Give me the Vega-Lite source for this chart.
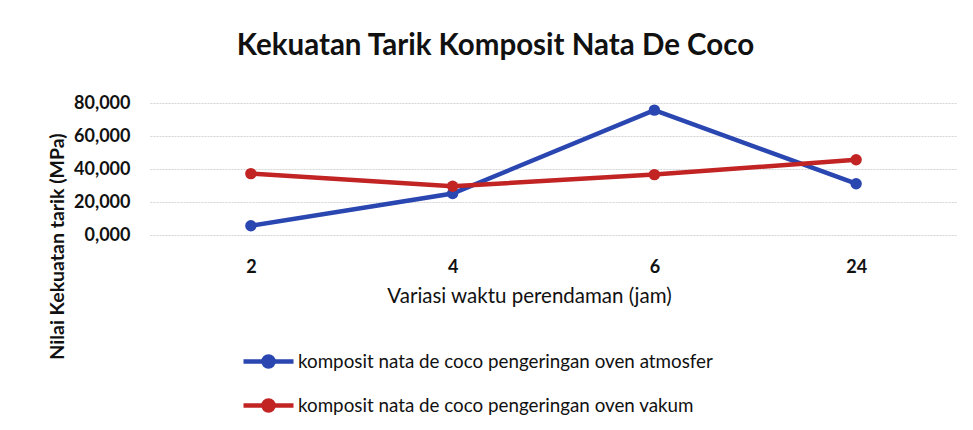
{
  "$schema": "https://vega.github.io/schema/vega-lite/v6.json",
  "width": 807,
  "height": 132,
  "autosize": {"type": "none"},
  "padding": {"left": 150, "top": 103, "right": 16, "bottom": 195},
  "background": "white",
  "config": {
    "font": "Lato",
    "view": {"stroke": null},
    "axis": {"labelFont": "Lato", "titleFont": "Lato"},
    "legend": {"labelFont": "Lato"}
  },
  "title": {
    "text": "Kekuatan Tarik Komposit Nata De Coco",
    "font": "Lato",
    "fontSize": 29.5,
    "fontWeight": "bold",
    "color": "#111111",
    "anchor": "middle",
    "dx": -58,
    "offset": 33
  },
  "data": {
    "values": [
      {"waktu": "2", "seri": "komposit nata de coco pengeringan oven atmosfer", "nilai": 5.6},
      {"waktu": "4", "seri": "komposit nata de coco pengeringan oven atmosfer", "nilai": 25.1},
      {"waktu": "6", "seri": "komposit nata de coco pengeringan oven atmosfer", "nilai": 75.7},
      {"waktu": "24", "seri": "komposit nata de coco pengeringan oven atmosfer", "nilai": 31.1},
      {"waktu": "2", "seri": "komposit nata de coco pengeringan oven vakum", "nilai": 37.2},
      {"waktu": "4", "seri": "komposit nata de coco pengeringan oven vakum", "nilai": 29.5},
      {"waktu": "6", "seri": "komposit nata de coco pengeringan oven vakum", "nilai": 36.6},
      {"waktu": "24", "seri": "komposit nata de coco pengeringan oven vakum", "nilai": 45.6}
    ]
  },
  "encoding": {
    "x": {
      "field": "waktu",
      "type": "ordinal",
      "sort": ["2", "4", "6", "24"],
      "scale": {"paddingInner": 0, "paddingOuter": 0},
      "axis": {
        "title": "Variasi waktu perendaman (jam)",
        "titleFontSize": 20.5,
        "titleFontWeight": "normal",
        "titleColor": "#111111",
        "titlePadding": 10,
        "titleX": 379,
        "labelAngle": 0,
        "labelFontSize": 18,
        "labelFontWeight": "bold",
        "labelColor": "#111111",
        "labelPadding": 23,
        "domain": false,
        "ticks": false,
        "grid": false
      }
    },
    "y": {
      "field": "nilai",
      "type": "quantitative",
      "scale": {"domain": [0, 80], "nice": false},
      "axis": {
        "title": "Nilai Kekuatan tarik (MPa)",
        "titleFontSize": 19.5,
        "titleFontWeight": "bold",
        "titleColor": "#111111",
        "titleX": -93,
        "titleY": 143,
        "titleAlign": "center",
        "titleBaseline": "middle",
        "values": [0, 20, 40, 60, 80],
        "labelExpr": "replace(format(datum.value, '.3f'), '.', ',')",
        "labelFontSize": 18,
        "labelFontWeight": "bold",
        "labelColor": "#111111",
        "labelPadding": 20,
        "domain": false,
        "ticks": false,
        "grid": true,
        "gridColor": "#d4d4d4",
        "gridWidth": 1,
        "gridDash": [2, 1]
      }
    },
    "color": {
      "field": "seri",
      "type": "nominal",
      "scale": {
        "domain": ["komposit nata de coco pengeringan oven atmosfer", "komposit nata de coco pengeringan oven vakum"],
        "range": ["#2a46b0", "#c22424"]
      },
      "legend": {
        "title": null,
        "orient": "none",
        "legendX": 91,
        "legendY": 231,
        "direction": "vertical",
        "rowPadding": 2,
        "labelFontSize": 18.8,
        "labelLimit": 0,
        "labelColor": "#111111",
        "labelOffset": 2,
        "symbolType": "M-1,0 L1,0 M-0.2,0 A0.2,0.2 0 1,1 0.2,0 A0.2,0.2 0 1,1 -0.2,0",
        "symbolSize": 2500,
        "symbolStrokeWidth": 4.5,
        "encode": {
          "symbols": {"update": {"fill": {"scale": "color", "field": "value"}, "opacity": {"value": 1}}}
        }
      }
    }
  },
  "layer": [
    {"mark": {"type": "line", "strokeWidth": 4.5}},
    {"mark": {"type": "point", "filled": true, "size": 130, "opacity": 1, "strokeWidth": 1.5}}
  ]
}
